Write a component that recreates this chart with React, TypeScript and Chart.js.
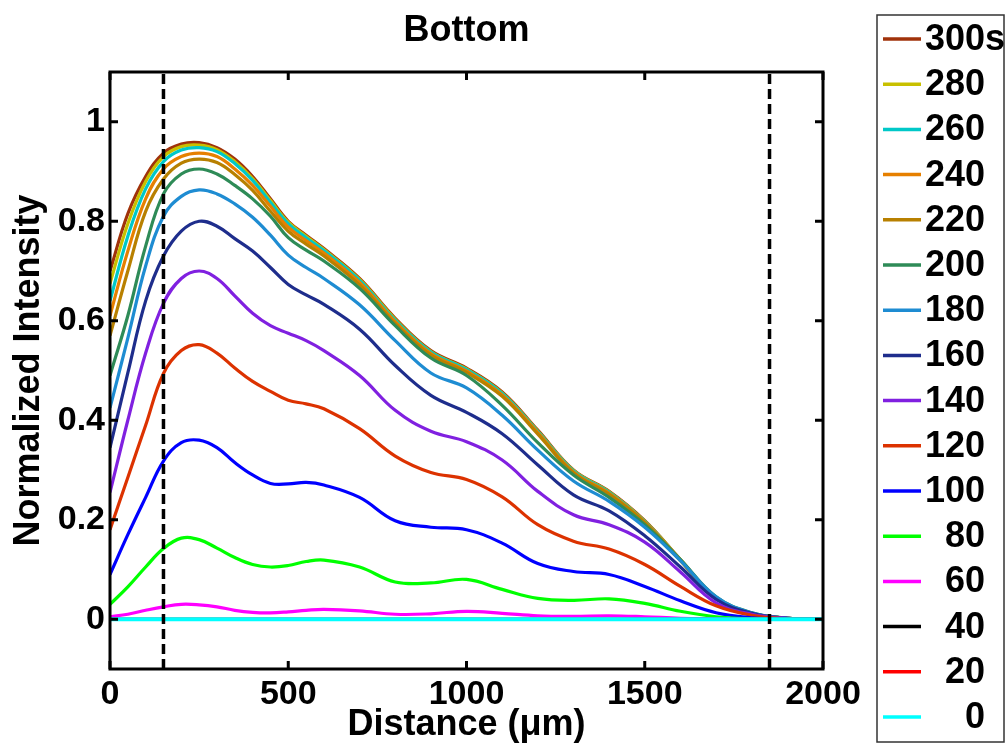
import { useEffect, useRef } from 'react';
import { Chart, registerables } from 'chart.js';
Chart.register(...registerables);

const distances = [0, 50, 100, 150, 200, 250, 300, 350, 400, 450, 500, 550, 600, 700, 800, 900, 1000, 1100, 1200, 1300, 1400, 1500, 1600, 1700, 1800, 1900, 2000];

const s300 = [0.70, 0.815, 0.89, 0.937, 0.955, 0.958, 0.948, 0.925, 0.89, 0.845, 0.80, 0.772, 0.745, 0.685, 0.605, 0.54, 0.505, 0.457, 0.38, 0.30, 0.257, 0.198, 0.12, 0.043, 0.012, 0.002, 0];
const s280 = [0.675, 0.795, 0.88, 0.93, 0.95, 0.953, 0.944, 0.92, 0.886, 0.842, 0.798, 0.770, 0.743, 0.683, 0.603, 0.538, 0.503, 0.455, 0.378, 0.299, 0.256, 0.197, 0.12, 0.043, 0.012, 0.002, 0];
const s260 = [0.64, 0.77, 0.865, 0.92, 0.943, 0.948, 0.94, 0.916, 0.882, 0.838, 0.795, 0.767, 0.741, 0.681, 0.601, 0.537, 0.502, 0.454, 0.377, 0.298, 0.255, 0.196, 0.119, 0.043, 0.012, 0.002, 0];
const s240 = [0.61, 0.74, 0.845, 0.905, 0.93, 0.937, 0.93, 0.905, 0.872, 0.83, 0.788, 0.761, 0.736, 0.677, 0.598, 0.534, 0.499, 0.451, 0.375, 0.296, 0.253, 0.195, 0.119, 0.043, 0.012, 0.002, 0];
const s220 = [0.57, 0.70, 0.82, 0.885, 0.917, 0.925, 0.918, 0.894, 0.862, 0.82, 0.78, 0.754, 0.73, 0.672, 0.594, 0.531, 0.496, 0.448, 0.372, 0.294, 0.251, 0.194, 0.118, 0.043, 0.012, 0.002, 0];
const s200 = [0.49, 0.61, 0.75, 0.855, 0.895, 0.905, 0.895, 0.872, 0.845, 0.81, 0.767, 0.742, 0.72, 0.665, 0.59, 0.525, 0.49, 0.43, 0.355, 0.29, 0.245, 0.19, 0.12, 0.045, 0.013, 0.002, 0];
const s180 = [0.425, 0.565, 0.71, 0.81, 0.85, 0.863, 0.855, 0.835, 0.808, 0.772, 0.732, 0.707, 0.685, 0.632, 0.56, 0.495, 0.465, 0.41, 0.34, 0.278, 0.237, 0.185, 0.118, 0.045, 0.013, 0.002, 0];
const s160 = [0.345, 0.495, 0.64, 0.73, 0.78, 0.80, 0.79, 0.765, 0.74, 0.707, 0.673, 0.652, 0.633, 0.583, 0.51, 0.45, 0.416, 0.373, 0.31, 0.25, 0.218, 0.168, 0.105, 0.04, 0.012, 0.002, 0];
const s140 = [0.255, 0.40, 0.535, 0.635, 0.685, 0.70, 0.685, 0.65, 0.615, 0.59, 0.575, 0.56, 0.54, 0.49, 0.42, 0.378, 0.357, 0.32, 0.257, 0.21, 0.19, 0.155, 0.095, 0.033, 0.01, 0.002, 0];
const s120 = [0.18, 0.285, 0.39, 0.494, 0.54, 0.552, 0.535, 0.505, 0.478, 0.458, 0.44, 0.433, 0.423, 0.383, 0.328, 0.295, 0.281, 0.246, 0.19, 0.157, 0.141, 0.11, 0.066, 0.027, 0.008, 0.001, 0];
const s100 = [0.09, 0.17, 0.245, 0.318, 0.355, 0.36, 0.345, 0.315, 0.29, 0.273, 0.272, 0.275, 0.27, 0.245, 0.198, 0.185, 0.18, 0.153, 0.112, 0.096, 0.09, 0.066, 0.037, 0.013, 0.003, 0, 0];
const s80 = [0.03, 0.065, 0.105, 0.142, 0.163, 0.16, 0.143, 0.124, 0.11, 0.105, 0.108, 0.116, 0.119, 0.105, 0.075, 0.073, 0.08, 0.06, 0.042, 0.038, 0.041, 0.032, 0.016, 0.005, 0.001, 0, 0];
const s60 = [0.005, 0.01, 0.018, 0.025, 0.03, 0.029, 0.025, 0.018, 0.014, 0.013, 0.015, 0.018, 0.02, 0.017, 0.01, 0.011, 0.016, 0.012, 0.007, 0.006, 0.007, 0.005, 0.002, 0.001, 0, 0, 0];
const s40 = [0, 0, 0, 0, 0, 0, 0, 0, 0, 0, 0, 0, 0, 0, 0, 0, 0, 0, 0, 0, 0, 0, 0, 0, 0, 0, 0];
const s20 = [0, 0, 0, 0, 0, 0, 0, 0, 0, 0, 0, 0, 0, 0, 0, 0, 0, 0, 0, 0, 0, 0, 0, 0, 0, 0, 0];
const s0 = [0, 0, 0, 0, 0, 0, 0, 0, 0, 0, 0, 0, 0, 0, 0, 0, 0, 0, 0, 0, 0, 0, 0, 0, 0, 0, 0];

const seriesValues = [s300, s280, s260, s240, s220, s200, s180, s160, s140, s120, s100, s80, s60, s40, s20, s0];
const seriesLabels = ['300s', '280', '260', '240', '220', '200', '180', '160', '140', '120', '100', '  80', '  60', '  40', '  20', '    0'];
const seriesColors = ['#A0320A', '#C8C000', '#00C8C8', '#E68000', '#B88000', '#2E8B57', '#1E8CD2', '#1E2D8C', '#8020E0', '#DC3200', '#0000FF', '#00FF00', '#FF00FF', '#000000', '#FF0000', '#00FFFF'];

const boundaryLines = [150, 1850];
const xTicks = [0, 500, 1000, 1500, 2000];
const yTicks = [0, 0.2, 0.4, 0.6, 0.8, 1];

const chartTitle = 'Bottom';
const xTitle = 'Distance (\u03BCm)';
const yTitle = 'Normalized Intensity';

const FAMILY = '"Liberation Sans", Arial, sans-serif';

export default function App() {
  const ref = useRef<HTMLCanvasElement>(null);
  useEffect(() => {
    document.body.style.margin = '0';
    const canvas = ref.current!;

    const curveSets = seriesValues.map((vals, i) => ({
      label: seriesLabels[i],
      data: distances.map((d, j) => ({ x: d, y: vals[j] })),
      borderColor: seriesColors[i],
      backgroundColor: seriesColors[i],
      borderWidth: i === seriesValues.length - 1 ? 3.8 : 3.2,
      pointRadius: 0,
      tension: 0.4,
      fill: false,
      order: seriesValues.length - i,
    }));
    const dashSets = boundaryLines.map((b) => ({
      label: 'boundary',
      data: [{ x: b, y: -0.1 }, { x: b, y: 1.1 }],
      borderColor: '#000',
      borderWidth: 3.5,
      borderDash: [10, 5],
      pointRadius: 0,
      fill: false,
      order: 0,
    }));

    const framePlugin = {
      id: 'frame',
      afterDatasetsDraw(chart: any) {
        const { ctx, chartArea, scales } = chart;
        const { left, right, top, bottom } = chartArea;
        ctx.save();
        ctx.strokeStyle = '#000';
        ctx.lineWidth = 3;
        ctx.strokeRect(left, top, right - left, bottom - top);
        const tl = 8;
        ctx.beginPath();
        xTicks.forEach((v) => {
          const px = scales.x.getPixelForValue(v);
          ctx.moveTo(px, bottom); ctx.lineTo(px, bottom - tl);
          ctx.moveTo(px, top); ctx.lineTo(px, top + tl);
        });
        yTicks.forEach((v) => {
          const py = scales.y.getPixelForValue(v);
          ctx.moveTo(left, py); ctx.lineTo(left + tl, py);
          ctx.moveTo(right, py); ctx.lineTo(right - tl, py);
        });
        ctx.stroke();
        ctx.restore();
      },
      afterDraw(chart: any) {
        const { ctx, chartArea } = chart;
        ctx.save();
        ctx.fillStyle = '#000';
        ctx.font = `bold 36px ${FAMILY}`;
        ctx.textAlign = 'center';
        ctx.textBaseline = 'middle';
        ctx.fillText(chartTitle, (chartArea.left + chartArea.right) / 2, 31);

        const bx = 877, by = 15, bw = 127, bh = 727;
        ctx.strokeStyle = '#333';
        ctx.lineWidth = 1.5;
        ctx.strokeRect(bx, by, bw, bh);
        ctx.font = `bold 36px ${FAMILY}`;
        ctx.textAlign = 'left';
        ctx.textBaseline = 'middle';
        seriesLabels.forEach((lab, i) => {
          const y = 39 + i * 45.2;
          ctx.strokeStyle = seriesColors[i];
          ctx.lineWidth = 3.5;
          ctx.beginPath();
          ctx.moveTo(883, y);
          ctx.lineTo(921, y);
          ctx.stroke();
          ctx.fillStyle = '#000';
          ctx.fillText(lab, 925, y + 1);
        });
        ctx.restore();
      },
    };

    const chart = new Chart(canvas, {
      type: 'line',
      data: { datasets: [...dashSets, ...curveSets] as any },
      options: {
        responsive: false,
        animation: false,
        layout: { padding: { left: 0, right: 185, top: 72, bottom: 0 } },
        plugins: { legend: { display: false }, title: { display: false }, tooltip: { enabled: false } },
        scales: {
          x: {
            type: 'linear',
            min: 0,
            max: 2000,
            grid: { display: false, drawTicks: false },
            border: { display: false },
            afterBuildTicks: (scale: any) => { scale.ticks = xTicks.map((v) => ({ value: v })); },
            afterFit: (scale: any) => { scale.height = 81; },
            ticks: {
              padding: 5,
              color: '#000',
              maxRotation: 0,
              font: { family: FAMILY, size: 34, weight: 'bold' },
              callback: (v: any) => String(v),
            },
            title: {
              display: true,
              text: xTitle,
              color: '#000',
              font: { family: FAMILY, size: 36, weight: 'bold' },
              padding: { top: 0, bottom: 3 },
            },
          },
          y: {
            type: 'linear',
            min: -0.1,
            max: 1.1,
            grid: { display: false, drawTicks: false },
            border: { display: false },
            afterBuildTicks: (scale: any) => { scale.ticks = yTicks.map((v) => ({ value: v })); },
            afterFit: (scale: any) => { scale.width = 110; },
            ticks: {
              padding: 5,
              color: '#000',
              font: { family: FAMILY, size: 34, weight: 'bold' },
              callback: (v: any) => String(v),
            },
            title: {
              display: true,
              text: yTitle,
              color: '#000',
              font: { family: FAMILY, size: 36, weight: 'bold' },
              padding: { top: 7, bottom: 0 },
            },
          },
        },
      } as any,
      plugins: [framePlugin],
    });
    return () => chart.destroy();
  }, []);
  return (
    <div style={{ width: 1008, height: 750 }}>
      <canvas ref={ref} width={1008} height={750} style={{ display: 'block' }} />
    </div>
  );
}
